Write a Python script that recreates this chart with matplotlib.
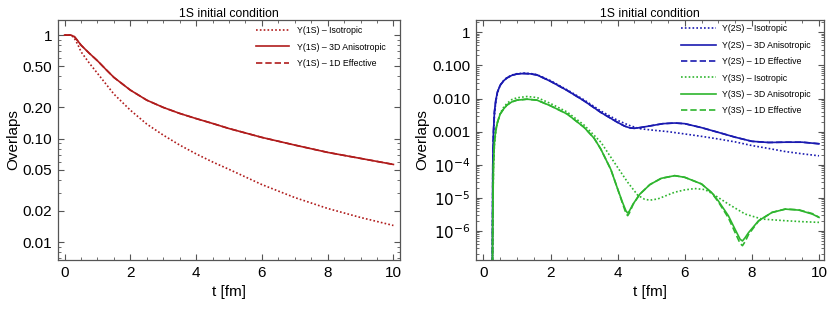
import matplotlib
matplotlib.use("Agg")
import matplotlib.pyplot as plt
from matplotlib.ticker import LogLocator, MultipleLocator, NullFormatter

plt.rcParams["font.family"] = ["Liberation Sans", "DejaVu Sans"]

# ---------------- data ----------------
# left panel: Y(1S)
t_1s = [0, 0.2, 0.3, 0.4, 0.5, 0.75, 1.0, 1.25, 1.5, 2.0, 2.5, 3.0, 3.5,
        4.0, 4.5, 5.0, 6.0, 7.0, 8.0, 9.0, 10.0]
y1s_aniso = [1, 1, 0.964, 0.881, 0.80, 0.668, 0.565, 0.468, 0.39, 0.294, 0.235,
             0.20, 0.175, 0.156, 0.140, 0.125, 0.1026, 0.0865, 0.0735, 0.0643, 0.0562]
y1s_1d = [1, 1, 0.964, 0.881, 0.80, 0.668, 0.565, 0.468, 0.39, 0.294, 0.235,
          0.20, 0.175, 0.156, 0.140, 0.125, 0.1026, 0.0865, 0.0735, 0.0643, 0.0562]
y1s_iso = [1, 1, 0.929, 0.813, 0.69, 0.537, 0.427, 0.339, 0.269, 0.188, 0.138,
           0.108, 0.0865, 0.0711, 0.0594, 0.0504, 0.0359, 0.0269, 0.0211, 0.01726, 0.01445]

# right panel: Y(2S)
t_2s = [0.26, 0.28, 0.30, 0.33, 0.37, 0.42, 0.5, 0.6, 0.7, 0.85, 1.0, 1.2, 1.4,
        1.6, 2.0, 2.5, 3.0, 3.5, 4.0, 4.2, 4.37, 4.5, 4.66, 5.0, 5.35, 5.7, 6.0,
        6.5, 7.0, 7.5, 8.0, 8.5, 9.0, 9.5, 10]
y2s_aniso = [1e-9, 1.0e-4, 1.0e-3, 4.0e-3, 8.9e-3, 1.58e-2, 2.51e-2, 3.39e-2,
             4.17e-2, 5.01e-2, 5.5e-2, 5.69e-2, 5.56e-2, 5.13e-2, 3.31e-2, 1.74e-2,
             8.5e-3, 3.8e-3, 1.9e-3, 1.48e-3, 1.29e-3, 1.26e-3, 1.32e-3, 1.51e-3,
             1.74e-3, 1.82e-3, 1.74e-3, 1.32e-3, 9.5e-4, 6.8e-4, 5.1e-4, 4.7e-4,
             4.8e-4, 4.8e-4, 4.3e-4]
y2s_1d = list(y2s_aniso)

t_2s_iso = [0.26, 0.28, 0.30, 0.33, 0.37, 0.42, 0.5, 0.6, 0.7, 0.85, 1.0, 1.2,
            1.4, 1.6, 2.0, 2.5, 3.0, 3.5, 4.0, 4.37, 4.66, 5.0, 5.5, 6.0, 6.5,
            7.0, 7.5, 8.0, 8.5, 9.0, 9.5, 10]
y2s_iso = [1e-9, 5.0e-5, 6.3e-4, 3.2e-3, 7.9e-3, 1.48e-2, 2.51e-2, 3.47e-2,
           4.27e-2, 5.13e-2, 5.62e-2, 5.82e-2, 5.69e-2, 5.25e-2, 3.47e-2, 1.82e-2,
           9.1e-3, 4.2e-3, 2.19e-3, 1.51e-3, 1.23e-3, 1.12e-3, 1.0e-3, 8.5e-4,
           7.2e-4, 6.0e-4, 4.9e-4, 3.8e-4, 3.1e-4, 2.5e-4, 2.14e-4, 1.86e-4]

# right panel: Y(3S)
t_3s = [0.26, 0.28, 0.30, 0.33, 0.37, 0.42, 0.5, 0.6, 0.7, 0.85, 1.0, 1.3, 1.6,
        2.0, 2.5, 3.0, 3.3, 3.5, 3.8, 4.0, 4.15, 4.25, 4.3, 4.35, 4.46, 4.66,
        4.96, 5.3, 5.7, 6.0, 6.5, 6.8, 7.0, 7.3, 7.5, 7.65, 7.72, 7.8, 7.9, 8.2,
        8.6, 9.0, 9.4, 9.8, 10]
y3s_aniso = [1e-9, 3.2e-6, 1.0e-4, 5.0e-4, 1.12e-3, 1.91e-3, 3.39e-3, 4.79e-3,
             6.31e-3, 7.94e-3, 8.91e-3, 9.55e-3, 8.91e-3, 6.03e-3, 3.39e-3, 1.35e-3,
             6.3e-4, 2.95e-4, 7.1e-5, 1.86e-5, 7.1e-6, 4.0e-6, 3.47e-6, 4.0e-6,
             6.5e-6, 1.29e-5, 2.51e-5, 3.89e-5, 4.68e-5, 4.17e-5, 2.63e-5, 1.45e-5,
             8.1e-6, 2.88e-6, 1.12e-6, 5.6e-7, 5.0e-7, 6.3e-7, 8.9e-7, 2.04e-6,
             3.63e-6, 4.57e-6, 4.27e-6, 3.24e-6, 2.57e-6]
y3s_1d = [1e-9, 3.2e-6, 1.0e-4, 5.0e-4, 1.12e-3, 1.91e-3, 3.39e-3, 4.79e-3,
          6.31e-3, 7.94e-3, 8.91e-3, 9.55e-3, 8.91e-3, 6.03e-3, 3.39e-3, 1.35e-3,
          6.3e-4, 2.95e-4, 7.1e-5, 1.86e-5, 6.6e-6, 3.4e-6, 2.9e-6, 3.5e-6,
          6.3e-6, 1.29e-5, 2.51e-5, 3.89e-5, 4.68e-5, 4.17e-5, 2.63e-5, 1.42e-5,
          7.6e-6, 2.5e-6, 9.0e-7, 4.2e-7, 3.6e-7, 4.8e-7, 7.8e-7, 2.0e-6,
          3.63e-6, 4.6e-6, 4.35e-6, 3.35e-6, 2.6e-6]

t_3s_iso = [0.26, 0.28, 0.30, 0.33, 0.37, 0.42, 0.5, 0.6, 0.7, 0.85, 1.0, 1.3,
            1.6, 2.0, 2.5, 3.0, 3.5, 4.0, 4.3, 4.6, 4.8, 4.96, 5.2, 5.4, 5.7, 6.0,
            6.3, 6.6, 6.8, 7.3, 7.8, 8.3, 9.0, 9.5, 10]
y3s_iso = [1e-9, 3.2e-6, 7.9e-5, 4.0e-4, 1.0e-3, 1.91e-3, 3.55e-3, 5.37e-3,
           7.08e-3, 9.33e-3, 1.05e-2, 1.15e-2, 1.07e-2, 7.08e-3, 3.89e-3, 1.58e-3,
           4.8e-4, 8.3e-5, 2.95e-5, 1.2e-5, 9.1e-6, 8.5e-6, 9.3e-6, 1.12e-5,
           1.48e-5, 1.74e-5, 1.91e-5, 1.78e-5, 1.38e-5, 6.5e-6, 3.24e-6, 2.29e-6,
           2.04e-6, 1.91e-6, 1.82e-6]

left_yticks = [1, 0.5, 0.2, 0.1, 0.05, 0.02, 0.01]
left_ylabels = ["1", "0.50", "0.20", "0.10", "0.05", "0.02", "0.01"]
right_yticks = [1, 0.1, 0.01, 0.001, 1e-4, 1e-5, 1e-6]
right_ylabels = ["1", "0.100", "0.010", "0.001", r"$10^{-4}$", r"$10^{-5}$", r"$10^{-6}$"]

RED = "#b01c1c"
BLUE = "#1a1ab0"
GREEN = "#2eb52e"
DOT = (0, (1.0, 1.3))
DASH = (0, (3.8, 1.8))
FRAME = "#555555"


def style_axes(ax):
    for s in ax.spines.values():
        s.set_color(FRAME)
        s.set_linewidth(0.9)
    ax.tick_params(which="both", direction="in", top=True, right=True,
                   color=FRAME, labelsize=11, pad=4)
    ax.tick_params(which="major", length=4.5, width=0.8)
    ax.tick_params(which="minor", length=2.3, width=0.6)
    ax.set_xticks([0, 2, 4, 6, 8, 10])
    ax.xaxis.set_minor_locator(MultipleLocator(0.5))
    ax.yaxis.set_minor_locator(LogLocator(base=10, subs=range(2, 10), numticks=20))
    ax.yaxis.set_minor_formatter(NullFormatter())
    ax.set_xlabel("t [fm]", fontsize=11, labelpad=4)
    ax.set_ylabel("Overlaps", fontsize=11, labelpad=2)
    ax.set_title("1S initial condition", fontsize=8.8, pad=2.5)


fig = plt.figure(figsize=(8.3, 3.09), dpi=100)
ax1 = fig.add_axes([0.0699, 0.1586, 0.412, 0.7767])
ax2 = fig.add_axes([0.5735, 0.1586, 0.4193, 0.7767])

# left
ax1.plot(t_1s, y1s_iso, color=RED, lw=1.2, ls=DOT, label="Y(1S) – Isotropic")
ax1.plot(t_1s, y1s_aniso, color=RED, lw=1.2, label="Y(1S) – 3D Anisotropic", zorder=3)
ax1.plot(t_1s, y1s_1d, color=RED, lw=1.2, ls=DASH, label="Y(1S) – 1D Effective", zorder=2)
ax1.set_yscale("log")
ax1.set_xlim(-0.2, 10.2)
ax1.set_ylim(0.0067, 1.4)
style_axes(ax1)
ax1.set_yticks(left_yticks, labels=left_ylabels)
ax1.legend(loc="upper right", bbox_to_anchor=(0.975, 1.0), frameon=False,
           fontsize=6.3, handlelength=3.7, handletextpad=0.9, labelspacing=0.85,
           borderaxespad=0.3)

# right
ax2.plot(t_2s_iso, y2s_iso, color=BLUE, lw=1.2, ls=DOT, label="Y(2S) – Isotropic")
ax2.plot(t_2s, y2s_aniso, color=BLUE, lw=1.2, label="Y(2S) – 3D Anisotropic")
ax2.plot(t_2s, y2s_1d, color=BLUE, lw=1.2, ls=DASH, label="Y(2S) – 1D Effective")
ax2.plot(t_3s_iso, y3s_iso, color=GREEN, lw=1.2, ls=DOT, label="Y(3S) – Isotropic")
ax2.plot(t_3s, y3s_aniso, color=GREEN, lw=1.2, label="Y(3S) – 3D Anisotropic")
ax2.plot(t_3s, y3s_1d, color=GREEN, lw=1.2, ls=DASH, label="Y(3S) – 1D Effective")
ax2.set_yscale("log")
ax2.set_xlim(-0.22, 10.15)
ax2.set_ylim(1.33e-7, 2.35)
style_axes(ax2)
ax2.set_yticks(right_yticks, labels=right_ylabels)
ax2.legend(loc="upper right", bbox_to_anchor=(0.98, 1.008), frameon=False,
           fontsize=6.3, handlelength=4.0, handletextpad=0.7, labelspacing=0.85,
           borderaxespad=0.3)

fig.savefig("out.png", dpi=100)
